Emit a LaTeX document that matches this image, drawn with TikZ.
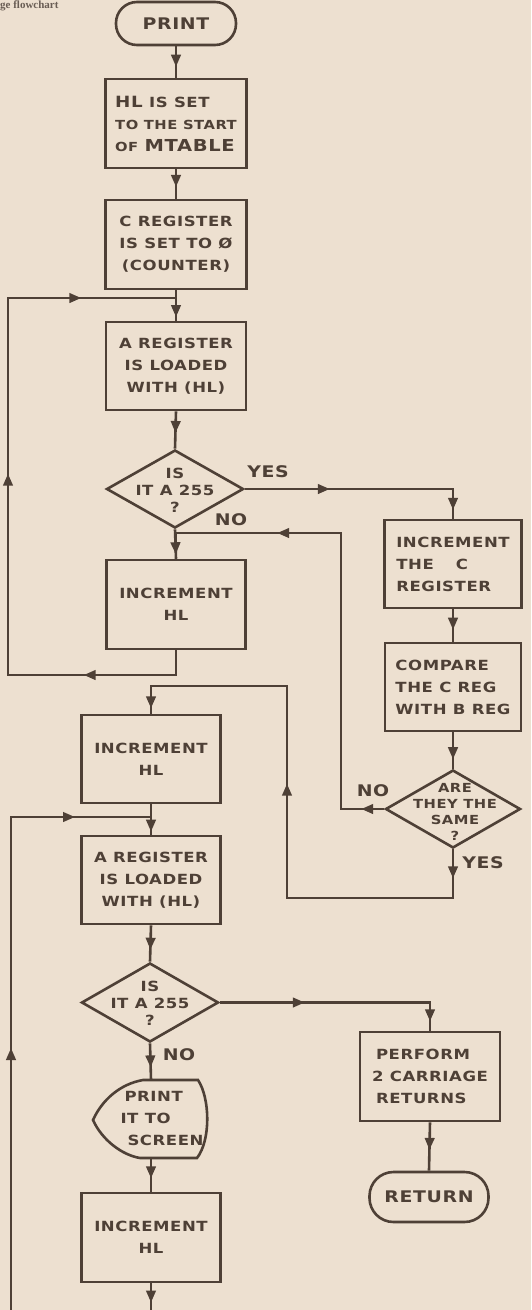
\documentclass[tikz,border=0pt]{standalone}
\usepackage{fontspec}
\usetikzlibrary{arrows.meta,decorations.markings,shapes.geometric,calc}
\setmainfont{Liberation Serif}
\newfontfamily\handfont[FakeStretch=1.18,LetterSpace=4]{DejaVu Sans Bold}
\definecolor{paper}{RGB}{237,224,208}
\definecolor{ink}{RGB}{78,64,54}
\newcommand\arrtip{\arrow{Triangle[length=12pt,width=9.5pt]}}
\tikzset{
  lw/.style={line width=2.6pt, line join=miter},
  conn/.style={draw=ink, lw, postaction={decorate}},
  box/.style={draw=ink, lw, rectangle, inner sep=0pt, text=ink,
    font=\handfont\fontsize{14}{22}\selectfont, align=center},
  term/.style={draw=ink, lw, rectangle, rounded corners=21pt, inner sep=0pt, text=ink,
    font=\handfont\fontsize{16}{20}\selectfont},
  dia/.style={draw=ink, lw, diamond, inner sep=0pt},
  dtext/.style={text=ink, inner sep=0pt, align=center, font=\handfont\fontsize{14}{17}\selectfont},
  lbl/.style={text=ink, inner sep=0pt, font=\handfont\fontsize{16}{20}\selectfont},
  m1/.style={decoration={markings, mark=at position #1 with {\arrtip}}},
  m2/.style 2 args={decoration={markings, mark=at position #1 with {\arrtip},
    mark=at position #2 with {\arrtip}}},
  m3/.style n args={3}{decoration={markings, mark=at position #1 with {\arrtip},
    mark=at position #2 with {\arrtip}, mark=at position #3 with {\arrtip}}},
}
\begin{document}
\begin{tikzpicture}[x=1pt,y=-1pt]
\useasboundingbox (0,0) rectangle (531,1310);
\fill[paper] (0,0) rectangle (531,1310);
\clip (0,0) rectangle (531,1310);

% caption fragment at the top edge
\node[anchor=base west, inner sep=0pt, text=ink!85, font=\bfseries\fontsize{11}{11}\selectfont] (cap) at (0,8.5) {ge flowchart};

% ---------- column 1 ----------
\node[term, minimum width=120pt, minimum height=43pt] (print) at (176,23.5) {PRINT};
\node[box, minimum width=141pt, minimum height=89pt, align=left] (hl) at (176,123.5)
  {{\fontsize{15.5}{22}\selectfont HL} IS SET\\{\fontsize{12.5}{20}\selectfont TO THE START}\\{\fontsize{12.5}{22}\selectfont OF} {\fontsize{16.5}{22}\selectfont MTABLE}};
\node[box, minimum width=141pt, minimum height=89pt] (creg) at (176,244.5)
  {C REGISTER\\IS SET TO Ø\\(COUNTER)};
\node[box, minimum width=140pt, minimum height=88pt] (areg1) at (176,366)
  {A REGISTER\\IS LOADED\\WITH (HL)};
\node[dia, minimum width=137pt, minimum height=78pt] (d1) at (175,489) {};
\node[dtext] (d1t) at (175,490) {IS\\IT A 255\\?};
\node[box, minimum width=139pt, minimum height=89pt] (inchl1) at (176,604.5)
  {INCREMENT\\HL};

% ---------- column 2 ----------
\node[box, minimum width=137pt, minimum height=88pt, align=left] (incc) at (453,564)
  {INCREMENT\\THE\hspace{22pt}C\\REGISTER};
\node[box, minimum width=136pt, minimum height=88pt, align=left] (comp) at (453,687)
  {COMPARE\\THE C REG\\WITH B REG};
\node[dia, minimum width=135pt, minimum height=78pt] (d2) at (453,809) {};
\node[dtext, font=\handfont\fontsize{12.5}{16}\selectfont] (d2t) at (455,812) {ARE\\THEY THE\\SAME\\?};

% ---------- column 3 ----------
\node[box, minimum width=139pt, minimum height=88pt] (inchl2) at (151,759)
  {INCREMENT\\HL};
\node[box, minimum width=139pt, minimum height=88pt] (areg2) at (151,880)
  {A REGISTER\\IS LOADED\\WITH (HL)};
\node[dia, minimum width=137pt, minimum height=79pt] (d3) at (150,1002.5) {};
\node[dtext] (d3t) at (150,1003) {IS\\IT A 255\\?};
\node[minimum width=116pt, minimum height=78pt, inner sep=0pt] (disp) at (151,1119) {};
\draw[draw=ink, lw] (143,1080) -- (198,1080)
  .. controls (210,1098) and (211,1140) .. (197,1158) -- (140,1158)
  .. controls (122,1155) and (102,1140) .. (93,1120)
  .. controls (102,1100) and (120,1084) .. (143,1080) -- cycle;
\node[box, draw=none, align=left] (dispt) at (162,1118)
  {\hspace*{4pt}PRINT\\IT TO\\\hspace*{7pt}SCREEN};
\node[box, minimum width=139pt, minimum height=89pt] (inchl3) at (151,1237.5)
  {INCREMENT\\HL};
\coordinate (bot) at (151,1310);
\coordinate (lb) at (11,1310);

% ---------- column 4 ----------
\node[box, minimum width=140pt, minimum height=89pt, align=left] (perf) at (430,1076.5)
  {\hspace*{4pt}PERFORM\\2 CARRIAGE\\\hspace*{4pt}RETURNS};
\node[term, minimum width=119pt, minimum height=50pt, rounded corners=24pt] (ret) at (429,1197) {RETURN};

% ---------- connectors ----------
\draw[conn, m1=0.65] (print.south) -- (hl.north);
\draw[conn, m1=0.6] (hl.south) -- (creg.north);
\draw[conn, m1=0.88] (creg.south) -- (areg1.north);
\draw[conn, m1=0.58] (areg1.south) -- (d1.north);
\draw[conn, m2={85pt}{229pt}] (d1.east) -| (incc.north);
\draw[conn, m1=0.85] (d1.south) -- (inchl1.north);
\draw[conn, m3={117pt}{394pt}{643pt}] (inchl1.south) -- (176,675) -- (8,675) -- (8,298) -- (176,298) -- (areg1.north);
\draw[conn, m1=0.63] (incc.south) -- (comp.north);
\draw[conn, m1=0.74] (comp.south) -- (d2.north);
\draw[conn, m2={23pt}{383pt}] (d2.west) -- (341,809) -- (341,533) -- (176,533) -- (inchl1.north);
\draw[conn, m3={29pt}{329pt}{585pt}] (d2.south) -- (453,898) -- (287,898) -- (287,686) -- (151,686) -- (inchl2.north);
\draw[conn, m1=0.9] (inchl2.south) -- (areg2.north);
\draw[conn, m2={262pt}{557pt}] (lb) -- (11,817) -- (151,817) -- (areg2.north);
\draw[conn, m1=0.67] (areg2.south) -- (d3.north);
\draw[conn, m2={85pt}{229pt}] (d3.east) -| (perf.north);
\draw[conn, m1=0.66] (d3.south) -- (disp.north);
\draw[conn, m1=0.6] (disp.south) -- (inchl3.north);
\draw[conn, m1=0.72] (inchl3.south) -- (bot);
\draw[conn, m1=0.57] (perf.south) -- (ret.north);

% ---------- labels ----------
\node[lbl] (yes1) at (268,472) {YES};
\node[lbl] (no1) at (231,520) {NO};
\node[lbl] (no2) at (373,791) {NO};
\node[lbl] (yes2) at (483,863) {YES};
\node[lbl] (no3) at (179,1055) {NO};
\end{tikzpicture}
\end{document}
